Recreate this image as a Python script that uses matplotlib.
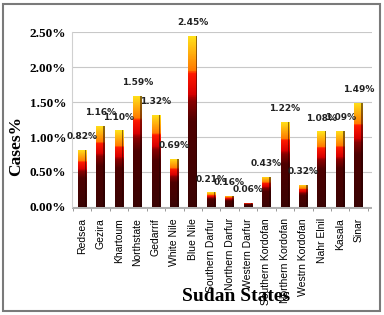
import numpy as np
import matplotlib.pyplot as plt
from matplotlib.colors import LinearSegmentedColormap
from matplotlib.patches import Rectangle

states = ['Redsea', 'Gezira', 'Khartoum', 'Northstate', 'Gedarrif', 'White Nile',
          'Blue Nile', 'Southern Darfur', 'Northern Darfur', 'Western Darfur',
          'Southern Kordofan', 'Northern Kordofan', 'Westrn Kordofan', 'Nahr Elnil',
          'Kasala', 'Sinar']
cases = [0.82, 1.16, 1.10, 1.59, 1.32, 0.69, 2.45, 0.21, 0.16, 0.06,
         0.43, 1.22, 0.32, 1.08, 1.09, 1.49]
yticks = [0, 0.5, 1.0, 1.5, 2.0, 2.5]

# fire colours, bottom to top of each bar
cmap = LinearSegmentedColormap.from_list('fire', [
    (0.0, '#3a0404'), (0.5, '#4e0000'), (0.62, '#8a0000'), (0.66, '#d80000'),
    (0.78, '#ff1a00'), (0.80, '#ff7a00'), (1.0, '#ffe21a')])
grad = np.linspace(0, 1, 100).reshape(-1, 1)

fig = plt.figure(figsize=(3.84, 3.15), dpi=100)
ax = fig.add_axes([0.1875, 0.343, 0.78, 0.555])

x = np.arange(len(states))
w = 0.47
bars = ax.bar(x, cases, width=w, color='none', edgecolor='none', zorder=3)
for b, v in zip(bars, cases):
    im = ax.imshow(grad, cmap=cmap, aspect='auto', origin='lower',
                   extent=(b.get_x(), b.get_x() + w, 0, v), zorder=3)
    im.set_clip_path(b)
    # dark right edge for a bit of depth
    ax.add_patch(Rectangle((b.get_x() + w * 0.82, 0), w * 0.18, v,
                           color='#200000', alpha=0.5, lw=0, zorder=4))
    ax.text(b.get_x() + w / 2, v + 0.12, f'{v:.2f}%', ha='center', va='bottom',
            fontsize=6.5, fontweight='bold', color='#222222', zorder=5)

# grey floor
ax.add_patch(Rectangle((-0.55, -0.03), 16.3, 0.03, color='#b0b0b0', lw=0,
                       clip_on=False, zorder=2))

ax.set_xlim(-0.55, 15.7)
ax.set_ylim(0, 2.5)
ax.set_yticks(yticks)
ax.set_yticklabels([f'{t:.2f}%' for t in yticks], family='Liberation Serif',
                   fontweight='bold', fontsize=9.5)
ax.set_xticks(x)
ax.set_xticklabels(states, rotation=90, fontsize=7.5, family='Liberation Sans')
ax.tick_params(axis='y', length=0, pad=4)
ax.tick_params(axis='x', length=0, pad=8)
ax.set_xticks(np.arange(-0.5, 16, 1), minor=True)
ax.tick_params(axis='x', which='minor', length=3, color='#888888')
ax.grid(axis='y', color='#c8c8c8', lw=0.8, zorder=0)
for s in ['top', 'right', 'bottom']:
    ax.spines[s].set_visible(False)
ax.spines['left'].set_color('#d0d0d0')

fig.text(0.043, 0.535, 'Cases%', rotation=90, ha='center', va='center',
         family='Liberation Serif', fontweight='bold', fontsize=12.5)
fig.text(0.615, 0.06, 'Sudan States', ha='center', va='center',
         family='Liberation Serif', fontweight='bold', fontsize=14)

fig.patches.append(Rectangle((0.008, 0.012), 0.982, 0.975, transform=fig.transFigure,
                             fill=False, edgecolor='#7a7a7a', lw=1.5))

fig.savefig('out.png', dpi=100)
